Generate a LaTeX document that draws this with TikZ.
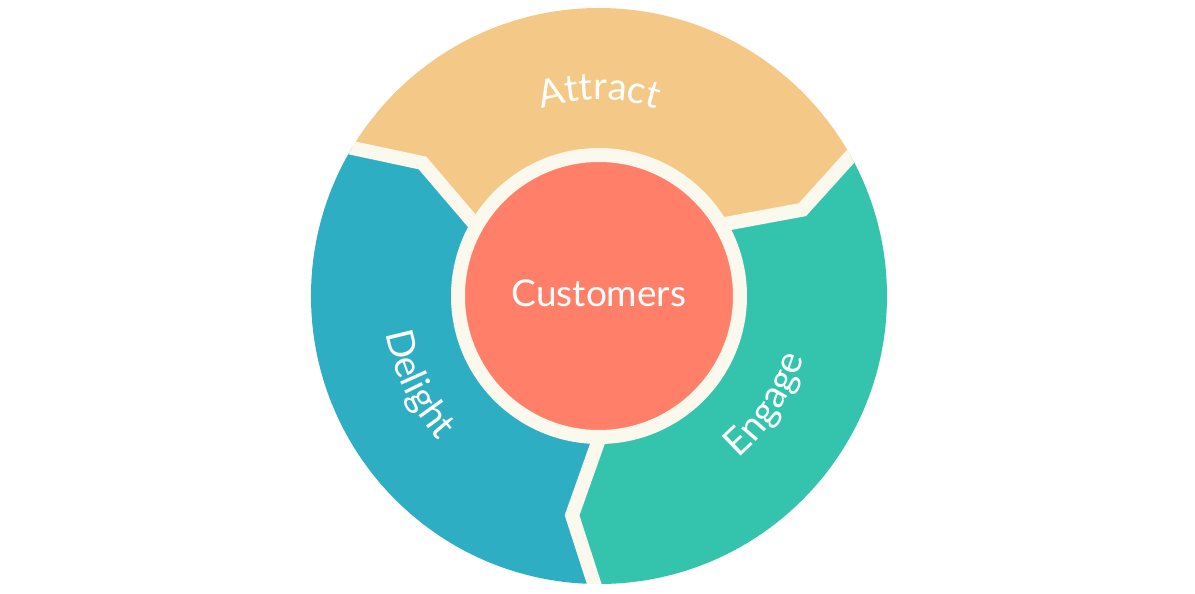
\documentclass[tikz,border=0pt]{standalone}
\usepackage{fontspec}
\setmainfont{Lato}
\usetikzlibrary{decorations.text}

\definecolor{attract}{HTML}{F4C886}
\definecolor{engage}{HTML}{34C4AE}
\definecolor{delight}{HTML}{2DAEC2}
\definecolor{customers}{HTML}{FF7F69}
\definecolor{cream}{HTML}{FBF8EE}

\newcommand\ringfont{\fontsize{38}{44}\selectfont}

\begin{document}
\begin{tikzpicture}[x=1pt, y=1pt,
  gap/.style={draw=cream, line width=14pt},
  hub/.style={circle, draw=cream, line width=14pt, fill=customers, minimum size=282pt, inner sep=0pt},
  hublabel/.style={text=white, font=\fontsize{37}{42}\selectfont},
  ringtext/.style={decorate, decoration={text along path, text align=center, text color=white}}]
  \useasboundingbox (-599,-298) rectangle (596,296);

  % separators: inner end, bend, outer end
  \foreach \a/\n in {34/ae, 154/ad, 274/de} {
    \coordinate (\n-in) at (\a:120);
    \coordinate (\n-bend) at ({\a-11}:221);
    \coordinate (\n-out) at ({\a-3}:320);
  }

  \begin{scope}
    \clip (0,0) circle[radius=288pt];
    \fill[attract] (0,0) -- (ae-in) -- (ae-bend) -- (ae-out) -- (60:600) -- (120:600)
      -- (ad-out) -- (ad-bend) -- (ad-in) -- cycle;
    \fill[engage] (0,0) -- (de-in) -- (de-bend) -- (de-out) -- (300:600) -- (0:600)
      -- (ae-out) -- (ae-bend) -- (ae-in) -- cycle;
    \fill[delight] (0,0) -- (ad-in) -- (ad-bend) -- (ad-out) -- (180:600) -- (240:600)
      -- (de-out) -- (de-bend) -- (de-in) -- cycle;
    \foreach \n in {ae, ad, de}
      \draw[gap] (\n-in) -- (\n-bend) -- (\n-out);
  \end{scope}

  \node[hub] (hub) at (0,0) {};
  \node[hublabel] (customers) at (0,3) {Customers};

  % labels along the ring
  \path[ringtext, decoration={text={|\ringfont|Attract}}]
    (130:196) arc[start angle=130, end angle=50, radius=196pt];
  \path[ringtext, decoration={text={|\ringfont|Engage}}]
    (-73:214) arc[start angle=-73, end angle=7, radius=214pt];
  \path[ringtext, decoration={text={|\ringfont|Delight}}]
    (166:216) arc[start angle=166, end angle=246, radius=216pt];
\end{tikzpicture}
\end{document}
